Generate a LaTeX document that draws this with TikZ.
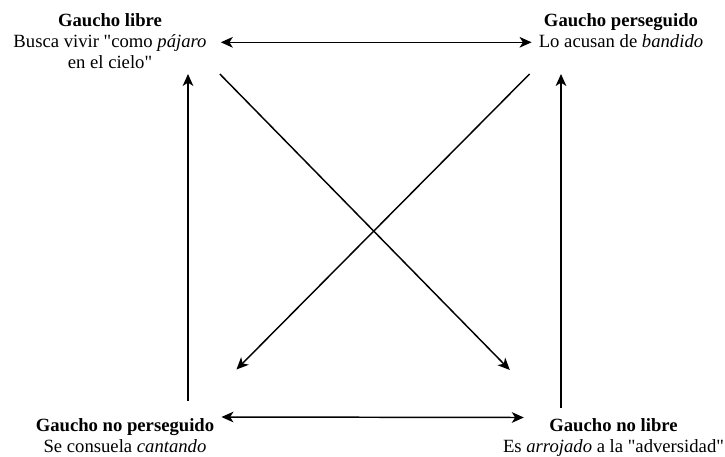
\documentclass[tikz,border=0pt]{standalone}
\usepackage{fontspec}
\setmainfont{Liberation Serif}[Ligatures=TeXOff]
\usepackage{tikz}
\usetikzlibrary{arrows.meta}

\begin{document}
\begin{tikzpicture}[x=0.75pt,y=-0.75pt,
 font=\fontsize{14}{15.75}\selectfont,
 lbl/.style={align=center,inner sep=0pt,anchor=north},
 ar/.style={-{Stealth[length=9pt,width=8pt,inset=2.5pt]},line width=1.1pt},
 ar2/.style={ar,{Stealth[length=9pt,width=8pt,inset=2.5pt]}-{Stealth[length=9pt,width=8pt,inset=2.5pt]}}]
\useasboundingbox (0,0) rectangle (725,457);
\node[lbl] (libre) at (110,13.3) {\textbf{Gaucho libre}\\Busca vivir "como \textit{pájaro}\\en el cielo"};
\node[lbl] (perseguido) at (621,13.3) {\textbf{Gaucho perseguido}\\Lo acusan de \textit{bandido}};
\node[lbl] (noperseguido) at (125,418) {\textbf{Gaucho no perseguido}\\Se consuela \textit{cantando}};
\node[lbl] (nolibre) at (613.5,418.5) {\textbf{Gaucho no libre}\\Es \textit{arrojado} a la "adversidad"};
\draw[ar2] ([shift={(14,29)}]libre.north east) -- ([shift={(-7,29)}]perseguido.north west);
\draw[ar2] ([shift={(7,-1)}]noperseguido.north east) -- ([shift={(21,-1)}]nolibre.north west);
\draw[ar] ([shift={(63,-17.5)}]noperseguido.north) -- ([shift={(78,5)}]libre.south);
\draw[ar] ([shift={(-52.5,-10.5)}]nolibre.north) -- ([shift={(-60,26)}]perseguido.south);
\draw[ar] ([shift={(13,5)}]libre.south east) -- ([shift={(7,-48.5)}]nolibre.north west);
\draw[ar] ([shift={(-9,26)}]perseguido.south west) -- ([shift={(22,-48.5)}]noperseguido.north east);
\end{tikzpicture}
\end{document}
